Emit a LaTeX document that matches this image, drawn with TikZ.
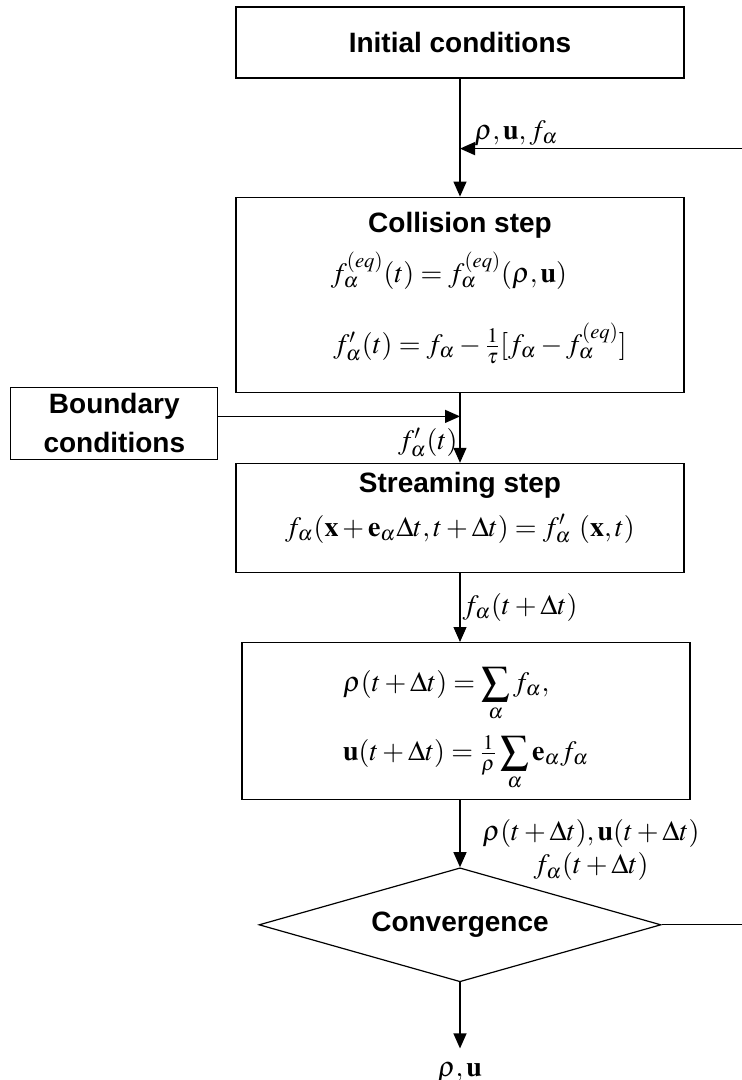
\documentclass[tikz,border=0pt]{standalone}
\usepackage{mathptmx}
\usepackage[no-math]{fontspec}
\setmainfont{Liberation Sans}
\usepackage{amsmath}
\usetikzlibrary{arrows.meta, positioning, shapes.geometric, calc}

\begin{document}
\begin{tikzpicture}[
  >={Triangle[length=7.5pt,width=6.5pt]},
  line width=0.6pt,
  node distance=0pt,
  block/.style={
    rectangle, draw,
    minimum width=224pt,
    align=center, font=\fontsize{14}{17}\selectfont,
    inner sep=2pt,
  },
  sideblock/.style={
    rectangle, draw,
    minimum width=103.5pt, minimum height=36pt,
    align=center, font=\fontsize{14}{19.5}\selectfont\bfseries,
    inner sep=2pt,
  },
  decision/.style={
    diamond, draw, aspect=3.5,
    minimum width=201pt, minimum height=57pt,
    font=\fontsize{14}{17}\selectfont\bfseries,
    inner sep=0pt,
  },
  arrow/.style={->},
  tag/.style={font=\fontsize{14}{16.5}\selectfont, inner sep=1pt},
]

% -- main column
\useasboundingbox (-230pt,21.25pt) rectangle (140.5pt,-518.75pt);

\node[block, minimum height=35.5pt] (init) at (0,0)
  {\bfseries Initial conditions};

\node[block, minimum height=97.5pt, below=59pt of init] (collision)
  {{\bfseries Collision step}\\[6pt]
   $f_\alpha^{(eq)}(t)=f_\alpha^{(eq)}(\rho,\mathbf{u})$\kern11pt\\[16pt]
   \kern20pt$f'_\alpha(t)=f_\alpha-\tfrac{1}{\tau}[f_\alpha-f_\alpha^{(eq)}]$\rule[-12pt]{0pt}{12pt}};

\node[block, minimum height=54.5pt, below=35pt of collision] (streaming)
  {{\bfseries Streaming step}\\[5pt]
   $f_\alpha(\mathbf{x}+\mathbf{e}_\alpha\Delta t,t+\Delta t)=f'_\alpha~(\mathbf{x},t)$\rule[-14pt]{0pt}{14pt}};

\node[block, minimum height=78.5pt, align=left, below=34.5pt of streaming, xshift=3pt] (update)
  {\rule{0pt}{20pt}$\rho(t+\Delta t)=\displaystyle\sum_\alpha f_\alpha,$\\[6pt]
   $\mathbf{u}(t+\Delta t)=\tfrac{1}{\rho}\displaystyle\sum_\alpha\mathbf{e}_\alpha f_\alpha$};

\node[decision, below=33.5pt of update, xshift=-3pt] (conv) {Convergence};

\node[tag, inner ysep=7pt, below=33pt of conv] (result) {$\rho,\mathbf{u}$};

% -- boundary input
\node[sideblock, anchor=north east] (boundary)
  at ([xshift=-8.5pt,yshift=3pt]collision.south west) {Boundary\\conditions};

% -- join points
\coordinate (join) at ([yshift=-35pt]init.south);
\coordinate (rim) at ([xshift=41pt]conv.east);
\coordinate (bjoin) at ([yshift=3.5pt]boundary.east -| collision.south);

% -- arrows
\draw[arrow] (init) -- (collision);
\draw[arrow] (collision) -- (streaming);
\draw[arrow] (streaming) -- node[tag, right, pos=0.5]{$f_\alpha(t+\Delta t)$}
  (streaming.south |- update.north);
\draw[arrow] (update.south -| conv.north) -- (conv);
\draw[arrow] (conv) -- (result);
\draw[arrow] ([yshift=3.5pt]boundary.east) -- (bjoin);
\draw[arrow] (conv.east) -- (rim) |- (join);

% -- labels
\node[tag, anchor=south west, xshift=6pt] at (join) {$\rho,\mathbf{u},f_\alpha$};
\node[tag, anchor=north east, yshift=-4.5pt] at (bjoin) {$f'_\alpha(t)$};
\node[tag, anchor=north west, align=center, xshift=10pt, yshift=-8.5pt]
  at (update.south -| conv.north)
  {$\rho(t+\Delta t),\mathbf{u}(t+\Delta t)$\\$f_\alpha(t+\Delta t)$};

\end{tikzpicture}
\end{document}
